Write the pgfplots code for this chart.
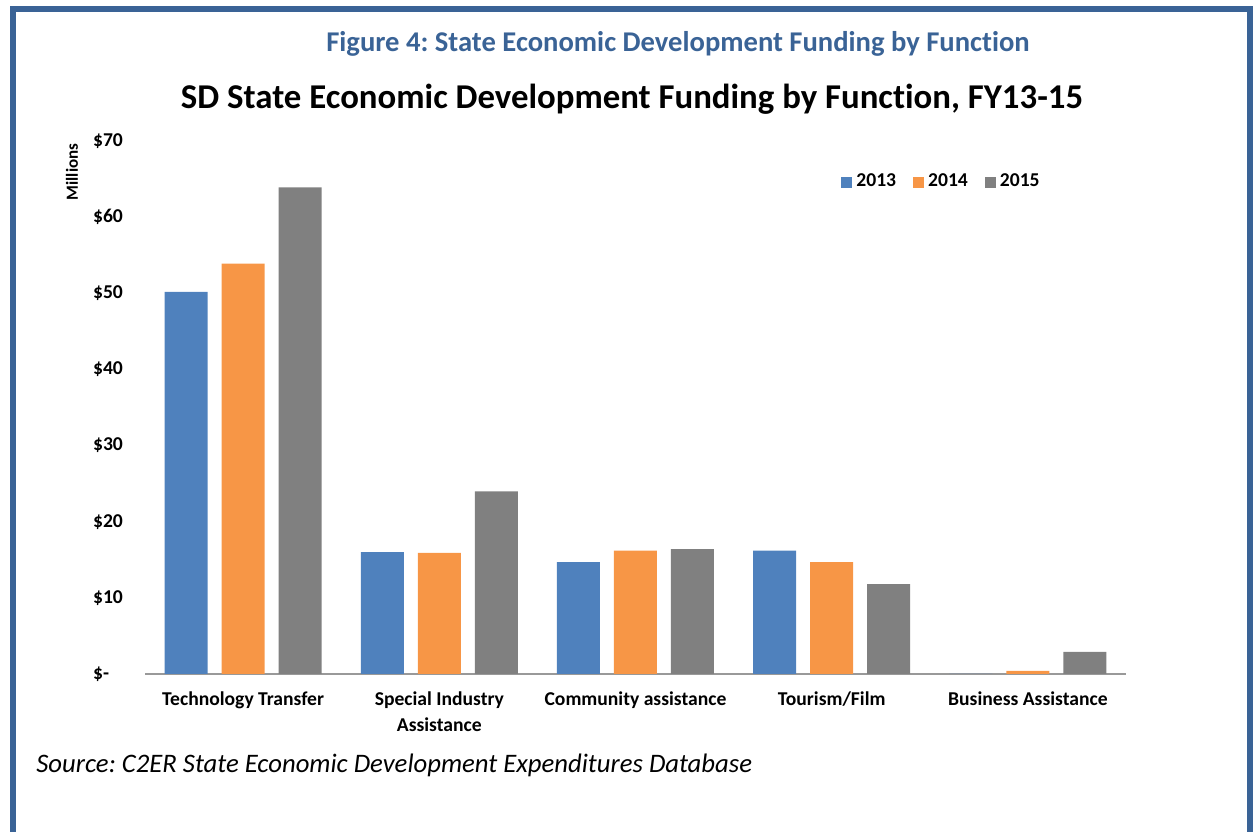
\documentclass[border=0pt]{standalone}
\usepackage{fontspec}
\setmainfont{Carlito}[Ligatures=NoCommon]
\usepackage{pgfplots}
\pgfplotsset{compat=1.18}
\definecolor{c13}{HTML}{4F81BD}
\definecolor{c14}{HTML}{F79646}
\definecolor{c15}{HTML}{808080}
\definecolor{framec}{HTML}{3A6396}
\definecolor{tblue}{HTML}{3A6396}
\frenchspacing
\begin{document}
\begin{tikzpicture}[x=0.5pt,y=0.5pt]
\path[use as bounding box] (0,0) rectangle (1254,831);
\begin{scope}
\clip (0,0) rectangle (1254,831);
\draw[framec, line width=3pt] (13,-20) -- (13,822) -- (1250,822) -- (1250,-20);
\end{scope}
\node[anchor=base, text=tblue, font=\bfseries\fontsize{14.3}{17}\selectfont] at (678,779) {Figure 4: State Economic Development Funding by Function};
\node[anchor=base, font=\bfseries\fontsize{17.4}{20}\selectfont] at (632,722) {SD State Economic Development Funding by Function, FY13-15};
\node[anchor=base west, inner sep=0pt, font=\itshape\fontsize{13.35}{16}\selectfont] at (36,59) {Source: C2ER State Economic Development Expenditures Database};
\node[rotate=90, font=\bfseries\fontsize{8.5}{10}\selectfont] at (72,659) {Millions};
\begin{axis}[at={(72.5pt,78.5pt)}, anchor=south west, scale only axis,
  width=490.5pt, height=266.5pt,
  ybar=7pt, bar width=21.5pt,
  xmin=-0.5, xmax=4.5, ymin=0, ymax=70,
  xtick={0,1,2,3,4},
  xticklabels={Technology Transfer,{Special Industry\\Assistance},Community assistance,Tourism/Film,Business Assistance},
  ytick={0,10,20,30,40,50,60,70},
  yticklabels={\$-,\$10,\$20,\$30,\$40,\$50,\$60,\$70},
  axis x line=bottom, axis y line=left,
  y axis line style={draw=none},
  x axis line style={-, draw=black!40, line width=1pt},
  major tick length=0pt, tick style={draw=none},
  xticklabel style={font=\bfseries\fontsize{9.8}{13}\selectfont, align=center, anchor=north, yshift=-5.5pt},
  yticklabel style={font=\bfseries\fontsize{9.8}{12}\selectfont, anchor=west, xshift=-29.5pt},
  legend style={at={(rel axis cs:0.7034,0.923)}, anchor=west, draw=none, fill=none,
    font=\bfseries\fontsize{9.8}{12}\selectfont, legend columns=3,
    /tikz/every even column/.append style={column sep=6.5pt}},
  sq/.style={legend image code/.code={\fill[##1] (0pt,-2.75pt) rectangle (5.5pt,2.75pt);}},
]
\addplot[fill=c13, draw=none, sq] coordinates {(0,50.2) (1,16.0) (2,14.7) (3,16.2) (4,0)};
\addplot[fill=c14, draw=none, sq] coordinates {(0,53.9) (1,15.9) (2,16.2) (3,14.7) (4,0.4)};
\addplot[fill=c15, draw=none, sq] coordinates {(0,63.9) (1,24.0) (2,16.4) (3,11.8) (4,2.9)};
\legend{2013,2014,2015}
\end{axis}
\end{tikzpicture}
\end{document}
